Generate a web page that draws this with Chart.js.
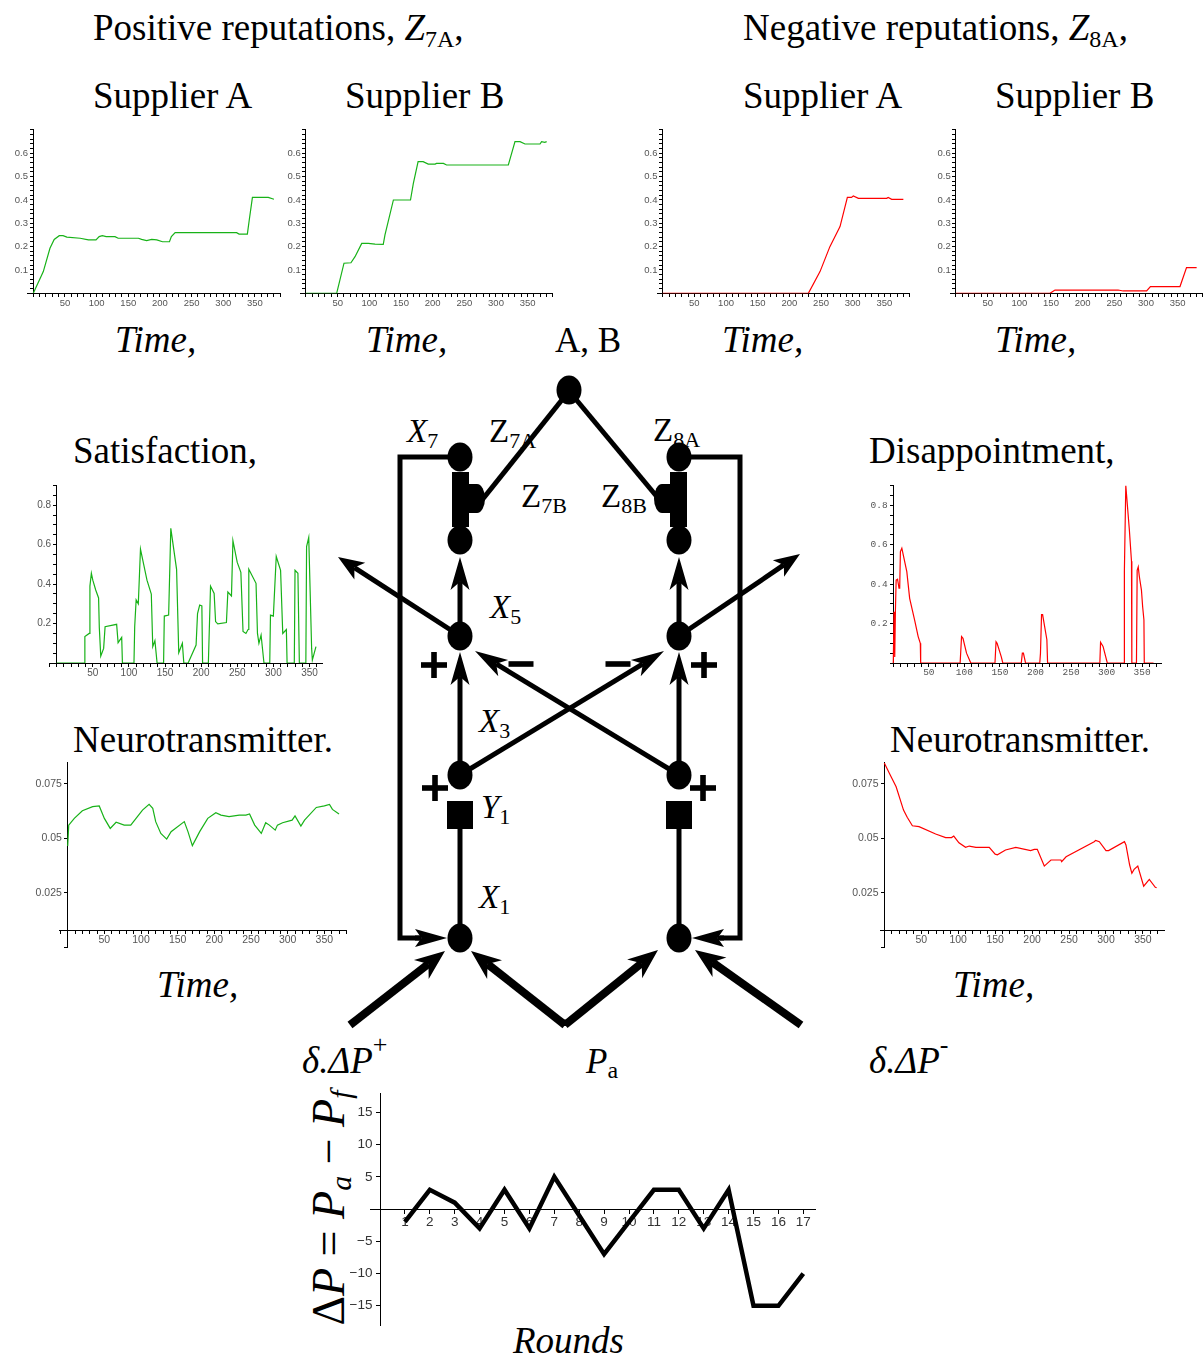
<!DOCTYPE html>
<html>
<head>
<meta charset="utf-8">
<script src="https://cdn.jsdelivr.net/npm/chart.js@4.4.1/dist/chart.umd.min.js"></script>
<style>
  html, body { margin: 0; padding: 0; background: #fff; }
  #page { position: relative; width: 1203px; height: 1355px; overflow: hidden; background: #fff; }
  #page canvas { position: absolute; }
  #diagram { position: absolute; left: 0; top: 0; }
  #diagram text { font-family: "Liberation Serif", "Times New Roman", serif; fill: #000; }
</style>
</head>
<body>
<div id="page">
<svg id="diagram" width="1203" height="1355" xmlns="http://www.w3.org/2000/svg">
  <!-- headings -->
  <text x="93" y="40" font-size="37">Positive reputations, <tspan font-style="italic">Z</tspan><tspan font-size="24" dy="7">7A</tspan><tspan dy="-7">,</tspan></text>
  <text x="743" y="40" font-size="37">Negative reputations, <tspan font-style="italic">Z</tspan><tspan font-size="24" dy="7">8A</tspan><tspan dy="-7">,</tspan></text>
  <text x="93" y="108" font-size="37">Supplier A</text>
  <text x="345" y="108" font-size="37">Supplier B</text>
  <text x="743" y="108" font-size="37">Supplier A</text>
  <text x="995" y="108" font-size="37">Supplier B</text>
  <text x="115" y="352" font-size="37" font-style="italic">Time,</text>
  <text x="366" y="352" font-size="37" font-style="italic">Time,</text>
  <text x="722" y="352" font-size="37" font-style="italic">Time,</text>
  <text x="995" y="352" font-size="37" font-style="italic">Time,</text>
  <text x="555" y="352" font-size="35">A, B</text>
  <text x="73" y="463" font-size="37">Satisfaction,</text>
  <text x="869" y="463" font-size="37">Disappointment,</text>
  <text x="73" y="752" font-size="37">Neurotransmitter.</text>
  <text x="890" y="752" font-size="37">Neurotransmitter.</text>
  <text x="157" y="997" font-size="37" font-style="italic">Time,</text>
  <text x="953" y="997" font-size="37" font-style="italic">Time,</text>
  <text x="513" y="1353" font-size="37" font-style="italic">Rounds</text>
  <text transform="translate(344,1208) rotate(-90)" text-anchor="middle" font-size="46">Δ<tspan font-style="italic">P</tspan> = <tspan font-style="italic">P</tspan><tspan font-style="italic" font-size="30" dy="7">a</tspan><tspan dy="-7"> − </tspan><tspan font-style="italic">P</tspan><tspan font-style="italic" font-size="30" dy="7">f</tspan></text>
  <!-- diagram labels -->
  <text x="407" y="442" font-size="33" font-style="italic">X<tspan font-style="normal" font-size="22" dy="6">7</tspan></text>
  <text x="489" y="442" font-size="33">Z<tspan font-size="22" dy="6">7A</tspan></text>
  <text x="521" y="507" font-size="33">Z<tspan font-size="22" dy="6">7B</tspan></text>
  <text x="601" y="507" font-size="33">Z<tspan font-size="22" dy="6">8B</tspan></text>
  <text x="653" y="441" font-size="33">Z<tspan font-size="22" dy="6">8A</tspan></text>
  <text x="490" y="618" font-size="33" font-style="italic">X<tspan font-style="normal" font-size="22" dy="6">5</tspan></text>
  <text x="479" y="732" font-size="33" font-style="italic">X<tspan font-style="normal" font-size="22" dy="6">3</tspan></text>
  <text x="481" y="818" font-size="33" font-style="italic">Y<tspan font-style="normal" font-size="22" dy="6">1</tspan></text>
  <text x="479" y="908" font-size="33" font-style="italic">X<tspan font-style="normal" font-size="22" dy="6">1</tspan></text>
  <text x="586" y="1073" font-size="35" font-style="italic">P<tspan font-style="normal" font-size="24" dy="5">a</tspan></text>
  <text x="302" y="1073" font-size="37" font-style="italic">δ.ΔP<tspan font-style="normal" font-size="26" dy="-20">+</tspan></text>
  <text x="869" y="1073" font-size="37" font-style="italic">δ.ΔP<tspan font-style="normal" font-size="26" dy="-20">-</tspan></text>
</svg>
<canvas id="posA"></canvas>
<canvas id="posB"></canvas>
<canvas id="negA"></canvas>
<canvas id="negB"></canvas>
<canvas id="satis"></canvas>
<canvas id="disap"></canvas>
<canvas id="neuroPos"></canvas>
<canvas id="neuroNeg"></canvas>
<canvas id="rounds"></canvas>
</div>
<script>
// ---- data ----
const posA_t = [0, 15.8, 26.3, 33, 41, 47, 53, 74, 87, 99, 104, 109, 115, 129, 134, 166, 171, 179, 187, 195, 204, 215, 218, 224, 321, 325, 338, 341, 346, 371, 380];
const posA_v = [0, 0.093, 0.193, 0.231, 0.247, 0.247, 0.241, 0.236, 0.229, 0.229, 0.243, 0.247, 0.243, 0.243, 0.236, 0.236, 0.231, 0.226, 0.231, 0.229, 0.221, 0.221, 0.243, 0.26, 0.26, 0.254, 0.254, 0.314, 0.411, 0.411, 0.403];

const posB_t = [0, 48.4, 60, 71, 77.4, 88, 98.4, 109, 122, 124.7, 138, 165, 169.5, 177, 185, 193, 204, 206, 217, 222, 319.5, 330, 338, 345.8, 369.5, 372, 377, 380];
const posB_v = [0, 0, 0.129, 0.131, 0.157, 0.214, 0.214, 0.211, 0.21, 0.25, 0.4, 0.4, 0.471, 0.564, 0.564, 0.554, 0.554, 0.557, 0.557, 0.55, 0.55, 0.65, 0.65, 0.64, 0.64, 0.65, 0.647, 0.65];

const negA_t = [0, 230, 248.4, 264, 280, 291.6, 298, 301, 309, 353.7, 356, 361.6, 380];
const negA_v = [0, 0, 0.093, 0.2, 0.286, 0.411, 0.411, 0.417, 0.407, 0.407, 0.411, 0.403, 0.403];

const negB_t = [0, 148.4, 156.3, 256, 264, 301, 307, 353.7, 364, 380];
const negB_v = [0, 0, 0.014, 0.014, 0.01, 0.01, 0.029, 0.029, 0.11, 0.11];

const satis_t = [0, 38, 39, 45, 46, 48, 50, 54, 58, 59, 61, 65, 67, 83, 85, 90, 91, 107, 108, 110, 113, 116, 125, 131, 133, 136, 139, 148, 149, 155, 158, 166, 169, 174, 176, 182, 193, 195, 198, 201, 202, 210, 213, 218, 220, 223, 235, 237, 242, 244, 250, 255, 258, 262, 265, 266, 276, 278, 280, 283, 287, 295, 296, 300, 304, 310, 313, 318, 319, 329, 330, 334, 336, 345, 346, 349, 353, 354, 359];
const satis_v = [0, 0, 0.134, 0.15, 0.39, 0.455, 0.42, 0.37, 0.33, 0.18, 0.035, 0.074, 0.184, 0.196, 0.103, 0.13, 0, 0, 0.184, 0.32, 0.3, 0.578, 0.42, 0.35, 0.083, 0.113, 0, 0, 0.238, 0.243, 0.683, 0.475, 0.052, 0.1, 0, 0, 0.091, 0.25, 0.294, 0.29, 0, 0, 0.39, 0.353, 0.21, 0.198, 0.205, 0.36, 0.34, 0.62, 0.51, 0.46, 0.16, 0.15, 0.17, 0.475, 0.404, 0.15, 0.1, 0.142, 0, 0, 0.243, 0.238, 0.54, 0.47, 0.15, 0.17, 0, 0, 0.47, 0.455, 0, 0, 0.59, 0.637, 0.074, 0.015, 0.083];

const disap_t = [0, 1, 2, 3, 4, 6, 8, 9, 10, 12, 14, 19, 23, 30, 35, 38, 38.5, 94, 96, 98, 103, 109, 143, 144.5, 146, 152, 154, 180, 181.5, 183, 186, 206, 207, 208.5, 210, 216, 217, 290.5, 291.5, 295, 301, 324.5, 325, 327, 329, 332, 335, 335.5, 342, 343, 344.5, 346, 349, 350.7, 352.5, 353, 366];
const disap_v = [0, 0.26, 0.03, 0.27, 0.42, 0.425, 0.38, 0.38, 0.565, 0.582, 0.548, 0.463, 0.328, 0.218, 0.134, 0.1, 0, 0, 0.134, 0.125, 0.05, 0, 0, 0.108, 0.1, 0.03, 0, 0, 0.05, 0.05, 0, 0, 0.05, 0.245, 0.245, 0.118, 0, 0, 0.105, 0.084, 0, 0, 0.465, 0.9, 0.81, 0.676, 0.516, 0, 0, 0.47, 0.487, 0.44, 0.37, 0.285, 0.218, 0, 0];

const neuroPos_t = [0, 1.4, 9, 20, 34, 43, 50, 58, 66, 77, 86, 102, 111, 116, 120, 127, 135, 141, 159, 164, 170, 180, 191, 202, 209, 220, 234, 243, 248, 255, 264, 270, 275, 283, 286, 293, 306, 310, 318, 323, 339, 350, 357, 361, 370];
const neuroPos_v = [0.0464, 0.056, 0.0591, 0.0626, 0.0645, 0.0648, 0.0591, 0.0545, 0.0573, 0.056, 0.056, 0.0629, 0.0655, 0.0637, 0.0576, 0.0522, 0.0496, 0.053, 0.0576, 0.053, 0.0466, 0.053, 0.0591, 0.0617, 0.0606, 0.0599, 0.0606, 0.0606, 0.0611, 0.056, 0.0522, 0.0571, 0.056, 0.0537, 0.056, 0.0571, 0.0583, 0.0602, 0.0556, 0.0583, 0.0641, 0.0648, 0.0655, 0.0632, 0.0611];

const neuroNeg_t = [0, 7, 16, 26, 31, 38, 47, 69.5, 83, 91, 94, 101, 110, 115, 124, 142, 150, 153, 164, 178, 198, 203, 207, 216.5, 225.5, 239, 240, 246, 284, 286, 291, 300, 303.5, 325, 327, 332, 335, 338, 343, 351, 358.6, 366.7, 368.5];
const neuroNeg_v = [0.0845, 0.0797, 0.0736, 0.0629, 0.0596, 0.0557, 0.0553, 0.0519, 0.0503, 0.0503, 0.051, 0.0479, 0.0458, 0.0464, 0.0458, 0.0458, 0.0427, 0.0424, 0.0446, 0.0458, 0.0443, 0.0449, 0.0449, 0.0372, 0.04, 0.04, 0.0392, 0.0415, 0.0484, 0.049, 0.0484, 0.0443, 0.0443, 0.0484, 0.0469, 0.0377, 0.0339, 0.0357, 0.0372, 0.028, 0.0311, 0.0275, 0.0273];

const rounds = [1, 2, 3, 4, 5, 6, 7, 8, 9, 10, 11, 12, 13, 14, 15, 16, 17];
const deltaP = [-2, 3, 1, -3, 3, -3, 5, -1, -7, -2, 3, 3, -3, 3, -15, -15, -10];

// tick labels
const timeTickLabels = [50, 100, 150, 200, 250, 300, 350];
const reputationTickLabels = [0.1, 0.2, 0.3, 0.4, 0.5, 0.6];
const feelingTickLabels = [0.2, 0.4, 0.6, 0.8];
const neuroTickLabels = [0.025, 0.05, 0.075];
const deltaTickLabels = [-15, -10, -5, 5, 10, 15];

// ---- plotting ----
const GREEN = 'rgb(24,178,24)';
const RED = 'rgb(255,0,0)';

function hasLabel(list, v) {
  return list.some(l => Math.abs(l - v) < 1e-9);
}

function makePlot(id, frame, t, v, color, opts) {
  const padL = 50, padR = 14, padT = 10, padB = 28;
  const areaL = frame.x0 + frame.xMin * frame.kx;
  const areaR = frame.x0 + frame.xMax * frame.kx;
  const areaT = frame.y0 - frame.yMax * frame.ky;
  const areaB = frame.y0 - frame.yMin * frame.ky;
  const left = Math.floor(areaL - padL);
  const top = Math.floor(areaT - padT);
  const width = Math.ceil(areaR + padR) - left;
  const height = Math.ceil(areaB + padB) - top;

  const canvas = document.getElementById(id);
  canvas.width = width;
  canvas.height = height;
  canvas.style.left = left + 'px';
  canvas.style.top = top + 'px';

  const tickFont = { family: opts.fontFamily || '"Liberation Sans", Arial, sans-serif', size: opts.fontSize || 9 };
  // y labels of an axis placed at a data value sit right on the axis line, so pad them with spaces
  const yGap = opts.yGap || '  ';

  return new Chart(canvas, {
    type: 'line',
    data: {
      datasets: [{
        data: t.map((x, i) => ({ x: x, y: v[i] })),
        borderColor: color,
        borderWidth: opts.lineWidth || 1.2,
        pointRadius: 0,
        tension: 0,
        fill: false
      }]
    },
    options: {
      responsive: false,
      animation: false,
      events: [],
      layout: {
        autoPadding: false,
        padding: {
          left: areaL - left,
          right: left + width - areaR,
          top: areaT - top,
          bottom: top + height - areaB
        }
      },
      plugins: { legend: { display: false }, tooltip: { enabled: false } },
      scales: {
        x: {
          type: 'linear',
          min: frame.xMin,
          max: frame.xMax,
          position: { y: opts.xAt || 0 },
          grid: { drawOnChartArea: false, tickLength: opts.tickLength || 3, color: '#000', lineWidth: 1 },
          border: { display: true, color: '#000', width: 1 },
          ticks: {
            stepSize: opts.xStep,
            includeBounds: false,
            autoSkip: false,
            maxRotation: 0,
            padding: opts.xPad || 1,
            color: opts.tickColor || '#555',
            font: tickFont,
            callback: (val) => hasLabel(opts.xLabels, val) ? String(val) : ''
          }
        },
        y: {
          type: 'linear',
          min: frame.yMin,
          max: frame.yMax,
          position: { x: opts.yAt || 0 },
          grid: { drawOnChartArea: false, tickLength: opts.tickLength || 3, color: '#000', lineWidth: 1 },
          border: { display: true, color: '#000', width: 1 },
          ticks: {
            stepSize: opts.yStep,
            includeBounds: false,
            autoSkip: false,
            color: opts.tickColor || '#555',
            font: tickFont,
            callback: (val) => {
              if (!hasLabel(opts.yLabels, val)) return '';
              return (val < 0 ? '\u2212' + String(-val) : String(val)) + yGap;
            }
          }
        }
      }
    }
  });
}

// frames: pixel position of the origin (x0, y0), pixels per unit (kx, ky) and axis ranges
const topFrame = (x0) => ({ x0: x0, kx: 0.6333, xMin: -9, xMax: 390, y0: 293.3, ky: 233.3, yMin: 0, yMax: 0.7 });
const repOpts = { xStep: 10, yStep: 0.02, xLabels: timeTickLabels, yLabels: reputationTickLabels, fontSize: 9.5 };

makePlot('posA', topFrame(33.3), posA_t, posA_v, GREEN, repOpts);
makePlot('posB', topFrame(306), posB_t, posB_v, GREEN, repOpts);
makePlot('negA', topFrame(662.7), negA_t, negA_v, RED, repOpts);
makePlot('negB', topFrame(956), negB_t, negB_v, RED, repOpts);

makePlot('satis', { x0: 56.7, kx: 0.7222, xMin: -10.6, xMax: 368, y0: 663, ky: 197.2, yMin: 0, yMax: 0.9 },
  satis_t, satis_v, GREEN,
  { xStep: 10, yStep: 0.05, xLabels: timeTickLabels, yLabels: feelingTickLabels, fontSize: 10 });

makePlot('disap', { x0: 893.3, kx: 0.711, xMin: -2, xMax: 377, y0: 663, ky: 197.2, yMin: 0, yMax: 0.9 },
  disap_t, disap_v, RED,
  { xStep: 10, yStep: 0.05, xLabels: timeTickLabels, yLabels: feelingTickLabels, fontSize: 9.5, yGap: ' ',
    fontFamily: '"Liberation Mono", "DejaVu Sans Mono", monospace' });

makePlot('neuroPos', { x0: 67.7, kx: 0.7333, xMin: -11, xMax: 380, y0: 947.2, ky: 2180, yMin: 0, yMax: 0.0845 },
  neuroPos_t, neuroPos_v, GREEN,
  { xStep: 10, yStep: 0.025, xAt: 0.0078, xLabels: timeTickLabels, yLabels: neuroTickLabels, fontSize: 10.5 });

makePlot('neuroNeg', { x0: 884.3, kx: 0.739, xMin: -5, xMax: 379, y0: 947.2, ky: 2180, yMin: 0, yMax: 0.0845 },
  neuroNeg_t, neuroNeg_v, RED,
  { xStep: 10, yStep: 0.025, xAt: 0.0078, xLabels: timeTickLabels, yLabels: neuroTickLabels, fontSize: 10.5 });

makePlot('rounds', { x0: 380, kx: 24.9, xMin: -0.4, xMax: 17.5, y0: 1209, ky: 6.45, yMin: -18, yMax: 18 },
  rounds, deltaP, '#000',
  { xStep: 1, yStep: 5, xLabels: rounds, yLabels: deltaTickLabels, fontSize: 13.5, lineWidth: 4.5,
    tickLength: 4, tickColor: '#333' });

// ---- schematic (not data): nodes, links and arrows ----
const NS = 'http://www.w3.org/2000/svg';
const svg = document.getElementById('diagram');

function el(tag, attrs) {
  const e = document.createElementNS(NS, tag);
  for (const k in attrs) e.setAttribute(k, attrs[k]);
  svg.appendChild(e);
  return e;
}
function seg(x1, y1, x2, y2, w) {
  el('line', { x1, y1, x2, y2, stroke: '#000', 'stroke-width': w });
}
function poly(points, w) {
  el('polyline', { points: points.map(p => p.join(',')).join(' '), fill: 'none', stroke: '#000',
    'stroke-width': w, 'stroke-linejoin': 'miter' });
}
function arrow(x1, y1, x2, y2, w, len, half, notch) {
  const dx = x2 - x1, dy = y2 - y1, d = Math.hypot(dx, dy);
  const ux = dx / d, uy = dy / d, nx = -uy, ny = ux;
  const bx = x2 - ux * len, by = y2 - uy * len;
  const cx = x2 - ux * len * notch, cy = y2 - uy * len * notch;
  seg(x1, y1, cx, cy, w);
  el('polygon', { points: `${x2},${y2} ${bx + nx * half},${by + ny * half} ${cx},${cy} ${bx - nx * half},${by - ny * half}`, fill: '#000' });
}
function node(cx, cy) { el('ellipse', { cx, cy, rx: 12.5, ry: 14.5, fill: '#000' }); }
function plus(cx, cy) {
  el('rect', { x: cx - 13, y: cy - 2.8, width: 26, height: 5.6, fill: '#000' });
  el('rect', { x: cx - 2.8, y: cy - 13, width: 5.6, height: 26, fill: '#000' });
}
function minus(cx, cy) { el('rect', { x: cx - 12.5, y: cy - 2.8, width: 25, height: 5.6, fill: '#000' }); }

const LW = 5;
// feedback loops
poly([[460, 457], [400, 457], [400, 938], [420, 938]], LW);
arrow(415, 938, 447, 938, LW, 32, 9, 0.8);
poly([[679, 457], [740, 457], [740, 938], [720, 938]], LW);
arrow(724, 938, 692, 938, LW, 32, 9, 0.8);

// top node links
seg(569, 391, 482, 500, LW);
seg(569, 391, 658, 498, LW);

// bars and half discs
el('rect', { x: 452, y: 472, width: 17, height: 55, fill: '#000' });
el('rect', { x: 670, y: 472, width: 17, height: 55, fill: '#000' });
el('path', { d: 'M469 484 L477 484 A8 14.5 0 0 1 477 513 L469 513 Z', fill: '#000' });
el('path', { d: 'M670 484 L662 484 A8 14.5 0 0 0 662 513 L670 513 Z', fill: '#000' });

// vertical chains
arrow(460, 636, 460, 557, LW, 33, 9.5, 0.75);
arrow(679, 636, 679, 557, LW, 33, 9.5, 0.75);
arrow(460, 775, 460, 652, LW, 33, 9.5, 0.75);
arrow(679, 775, 679, 652, LW, 33, 9.5, 0.75);
seg(460, 829, 460, 930, LW);
seg(679, 829, 679, 930, LW);

// crossing links
arrow(460, 775, 664, 651, LW, 33, 9.5, 0.75);
arrow(679, 775, 475, 651, LW, 33, 9.5, 0.75);

// outputs
arrow(460, 636, 338, 557, LW, 26, 10, 0.75);
arrow(679, 636, 800, 554, LW, 26, 10, 0.75);

// inputs
arrow(350, 1025, 445, 951, 8, 30, 12, 0.7);
arrow(565, 1025, 471, 951, 8, 30, 12, 0.7);
arrow(565, 1025, 658, 950, 8, 30, 12, 0.7);
arrow(801, 1025, 695, 950, 8, 30, 12, 0.7);
el('polygon', { points: '565,1019 560,1026 570,1026', fill: '#000' });

// nodes
node(569, 390);
[[460, 457], [679, 457], [460, 540], [679, 540], [460, 636], [679, 636], [460, 775], [679, 775], [460, 938], [679, 938]]
  .forEach(p => node(p[0], p[1]));
el('rect', { x: 447, y: 801, width: 26, height: 28, fill: '#000' });
el('rect', { x: 666, y: 801, width: 26, height: 28, fill: '#000' });

// signs
plus(434, 665); minus(521, 664); minus(618, 664); plus(704, 665);
plus(435, 788); plus(703, 788);
</script>
</body>
</html>
